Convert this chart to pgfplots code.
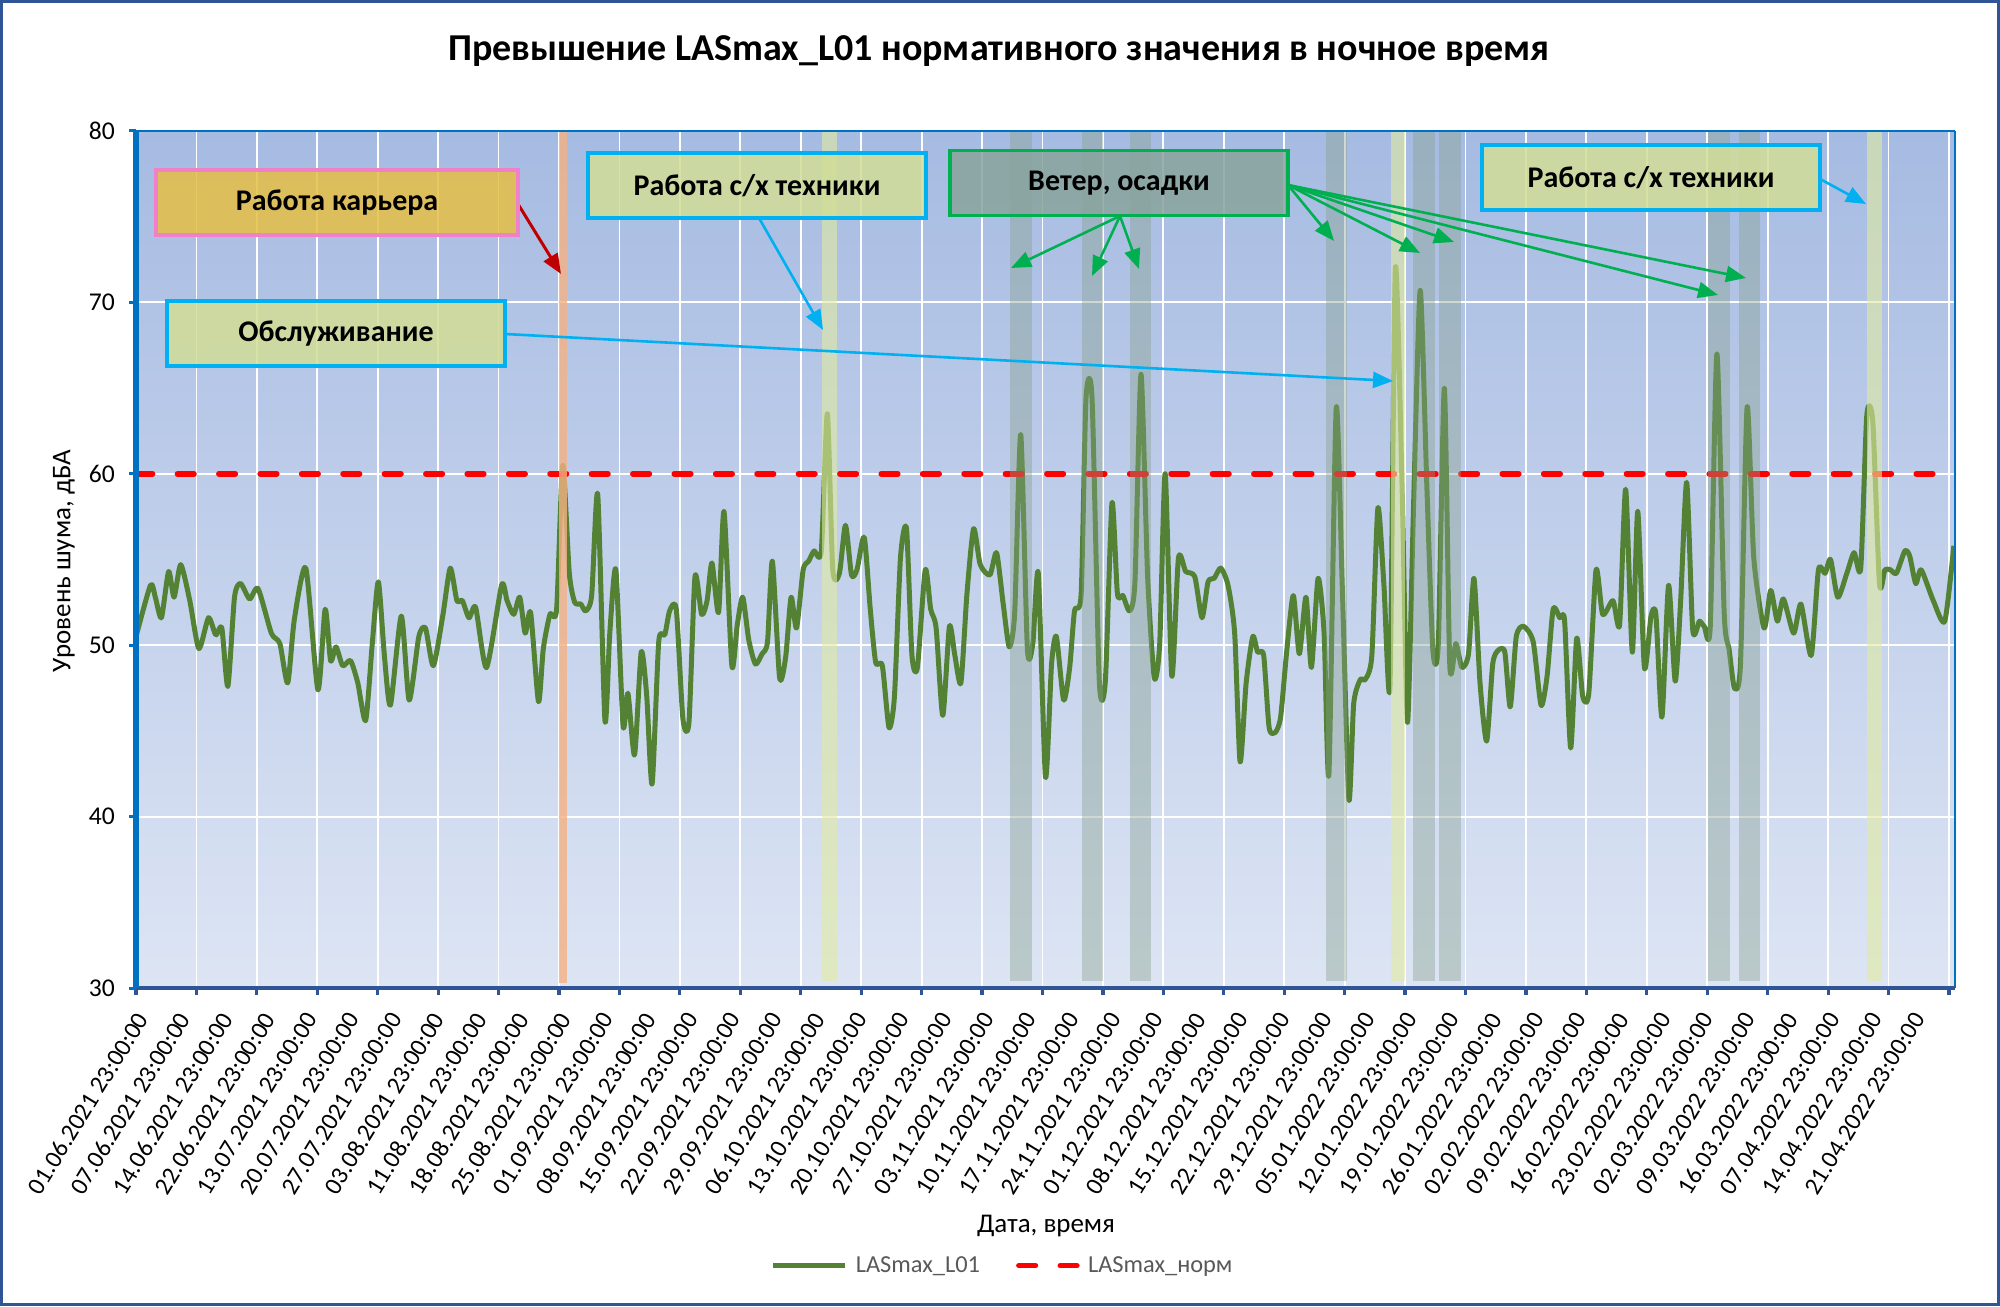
\documentclass[border=0pt]{standalone}
\usepackage{fontspec}
\setmainfont{Carlito}
\usepackage{pgfplots}
\pgfplotsset{compat=1.18}
\usetikzlibrary{arrows.meta}
\definecolor{linegreen}{RGB}{84,130,53}
\definecolor{ycol}{RGB}{0,112,192}
\definecolor{xcol}{RGB}{47,85,151}
\definecolor{bgtop}{RGB}{166,187,226}
\definecolor{bgbot}{RGB}{221,229,244}
\definecolor{grayband}{RGB}{135,160,140}
\definecolor{yelband}{RGB}{225,235,160}
\definecolor{orband}{RGB}{244,177,131}
\definecolor{goldf}{RGB}{230,190,70}
\definecolor{pinkb}{RGB}{240,128,200}
\definecolor{olivef}{RGB}{210,221,150}
\definecolor{cyanb}{RGB}{0,176,240}
\definecolor{grayf}{RGB}{137,164,157}
\definecolor{greenb}{RGB}{0,176,80}
\definecolor{darkred}{RGB}{192,0,0}
\definecolor{legtext}{RGB}{89,89,89}
\definecolor{framec}{RGB}{47,85,151}
\pgfplotsset{
  mylegline/.style={legend image code/.code={\draw[##1] (0pt,0pt) -- (36pt,0pt);}},
  mylegdash/.style={legend image code/.code={\draw[##1, dash pattern=on 8.3pt off 12.4pt] (1.4pt,0pt) -- (30.6pt,0pt);}},
}
\begin{document}
\begin{tikzpicture}
\useasboundingbox (0pt,0pt) rectangle (1000pt,653pt);
\fill[white] (0pt,0pt) rectangle (1000pt,653pt);
\begin{axis}[
  at={(68pt,159pt)}, anchor=south west,
  scale only axis, width=909.5pt, height=428.5pt,
  xmin=0, xmax=301, ymin=30, ymax=80,
  clip mode=individual,
  axis line style={draw=none},
  axis background/.style={top color=bgtop, bottom color=bgbot},
  grid=major, major grid style={white, line width=0.9pt},
  tick pos=left, tick align=outside,
  xtick={0,10,...,300}, xticklabels={},
  x tick style={draw=xcol, line width=1.6pt},
  major tick length=3.5pt,
  extra x ticks={0,7,...,294},
  extra x tick style={grid=none, major tick length=0pt},
  extra x tick labels={01.06.2021 23:00:00, 07.06.2021 23:00:00, 14.06.2021 23:00:00, 22.06.2021 23:00:00, 13.07.2021 23:00:00, 20.07.2021 23:00:00, 27.07.2021 23:00:00, 03.08.2021 23:00:00, 11.08.2021 23:00:00, 18.08.2021 23:00:00, 25.08.2021 23:00:00, 01.09.2021 23:00:00, 08.09.2021 23:00:00, 15.09.2021 23:00:00, 22.09.2021 23:00:00, 29.09.2021 23:00:00, 06.10.2021 23:00:00, 13.10.2021 23:00:00, 20.10.2021 23:00:00, 27.10.2021 23:00:00, 03.11.2021 23:00:00, 10.11.2021 23:00:00, 17.11.2021 23:00:00, 24.11.2021 23:00:00, 01.12.2021 23:00:00, 08.12.2021 23:00:00, 15.12.2021 23:00:00, 22.12.2021 23:00:00, 29.12.2021 23:00:00, 05.01.2022 23:00:00, 12.01.2022 23:00:00, 19.01.2022 23:00:00, 26.01.2022 23:00:00, 02.02.2022 23:00:00, 09.02.2022 23:00:00, 16.02.2022 23:00:00, 23.02.2022 23:00:00, 02.03.2022 23:00:00, 09.03.2022 23:00:00, 16.03.2022 23:00:00, 07.04.2022 23:00:00, 14.04.2022 23:00:00, 21.04.2022 23:00:00},
  xticklabel style={xshift=3.7pt, yshift=-12.5pt, rotate=58.5, anchor=east, font=\fontsize{12.4}{14}\selectfont, inner sep=1pt},
  ytick={30,40,...,80},
  y tick style={draw=ycol, line width=1.5pt},
  yticklabel style={font=\fontsize{12.8}{15}\selectfont, xshift=-3.5pt},
  /pgf/number format/assume math mode=true,
  legend columns=2,
  legend style={draw=none, fill=none, at={(0.477,-0.324)}, anchor=center,
    font=\fontsize{12.2}{14}\selectfont, text=legtext,
    /tikz/every odd column/.append style={column sep=2pt},
    /tikz/every even column/.append style={column sep=16pt}},
]
\addplot[color=linegreen, line width=2.5pt, smooth, tension=0.4, line join=round, mylegline]
coordinates {
(0,50.5) (2.4,53.5) (3.2,52.8) (4.2,51.6) (5.4,54.3) (6.3,52.8) (7.4,54.7) (8.9,52.6) (10.4,49.8) (12.0,51.6) (13.2,50.6) (14.2,51.0) (15.2,47.6) (16.3,52.8) (17.3,53.6) (18.8,52.7) (20.2,53.3) (22.4,50.7) (23.8,50.1) (25.1,47.8) (26.2,51.5) (28.1,54.5) (30.1,47.4) (31.3,52.1) (32.2,49.1) (33.1,49.9) (34.2,48.8) (35.5,49.1) (36.7,47.8) (38.0,45.6) (39.1,50.1) (40.1,53.7) (41.1,49.4) (42.1,46.5) (43.9,51.7) (45.2,46.8) (46.8,50.5) (47.9,51.0) (49.2,48.8) (50.8,51.8) (52.0,54.5) (53.1,52.6) (54.0,52.6) (55.1,51.6) (56.2,52.2) (58.0,48.7)
(60.5,53.5) (61.4,52.6) (62.5,51.8) (63.5,52.8) (64.4,50.7) (65.3,51.9) (66.6,46.7) (67.4,49.8) (68.5,51.8) (69.6,52.1) (70.6,60.5) (71.7,54.2) (72.6,52.5) (73.6,52.4) (74.4,52.0) (75.4,52.9) (76.4,58.8) (77.6,45.6) (78.4,50.7) (79.4,54.4) (80.6,45.3) (81.4,47.2) (82.5,43.6) (83.6,49.6) (84.5,47.1) (85.4,41.9) (86.5,50.2) (87.5,50.6) (88.3,52.0) (89.4,52.1) (90.5,45.7) (91.5,45.5) (92.5,54.0) (93.6,51.8) (94.5,52.6) (95.3,54.8) (96.4,51.9) (97.3,57.8) (98.6,48.8) (99.5,51.2) (100.4,52.8) (101.4,50.3) (102.5,48.9) (103.6,49.5) (104.5,50.2) (105.3,54.9) (106.5,48.1) (107.5,49.3) (108.4,52.8) (109.3,51.0) (110.4,54.4) (111.3,54.9) (112.2,55.5) (113.4,55.5) (114.4,63.5) (115.3,54.4) (116.4,54.2) (117.4,57.0) (118.4,54.1) (119.3,54.4)
(120.5,56.3) (121.5,52.1) (122.4,49.0) (123.5,48.8) (124.6,45.2) (125.5,47.0) (126.5,55.1) (127.5,56.8) (128.4,49.4) (129.3,48.7) (130.6,54.4) (131.5,52.1) (132.4,51.0) (133.5,45.9) (134.6,51.1) (135.5,49.4) (136.5,47.8) (137.5,53.0) (138.6,56.8) (139.7,54.7) (141.3,54.1) (142.4,55.4) (143.5,52.4) (144.5,49.9) (145.4,51.9) (146.4,62.3) (147.5,49.8) (148.4,50.1) (149.3,54.2) (150.5,42.3) (151.5,48.9) (152.3,50.5) (153.5,46.8) (154.5,48.7) (155.3,52.0) (156.4,53.0) (157.2,64.4) (158.2,64.4) (159.4,47.9) (160.4,47.9) (161.5,58.3) (162.4,53.0) (163.3,52.9) (164.4,52.0) (165.3,53.7) (166.3,65.8) (167.4,54.0) (168.5,48.1) (169.4,50.1) (170.3,60.0) (171.4,48.2) (172.5,55.1) (173.7,54.3) (175.2,54.0) (176.4,51.6) (177.4,53.7) (178.4,53.9) (179.5,54.5)
(180.7,53.5) (181.8,50.7) (182.7,43.2) (183.7,47.8) (184.8,50.5) (185.6,49.6) (186.6,49.4) (187.5,45.2) (188.5,44.9) (189.4,45.8) (190.4,49.6) (191.5,52.9) (192.5,49.5) (193.6,52.8) (194.5,48.7) (195.6,53.9) (196.6,50.7) (197.4,42.5) (198.6,63.8) (199.6,53.5) (200.7,41.0) (201.5,46.6) (202.6,48.0) (203.4,48.0) (204.5,49.4) (205.5,58.0) (206.5,53.5) (207.5,47.6) (208.4,72.0) (209.5,59.3) (210.4,45.5) (211.4,58.1) (212.5,70.7) (213.6,59.3) (214.6,49.7) (215.5,50.1) (216.5,65.0) (217.4,48.8) (218.4,50.1) (219.4,48.7) (220.5,49.5) (221.4,53.9) (222.4,47.8) (223.5,44.4) (224.5,48.9) (225.4,49.7) (226.5,49.6) (227.4,46.4) (228.4,50.5) (229.6,51.1) (231.2,50.2) (232.5,46.5) (233.5,48.2) (234.5,52.1) (235.6,51.6) (236.4,51.4) (237.4,44.0) (238.4,50.4) (239.4,47.0) (240.4,47.2)
(241.6,54.4) (242.7,51.8) (244.4,52.6) (245.5,51.2) (246.5,59.1) (247.6,49.6) (248.5,57.8) (249.6,48.7) (250.7,51.7) (251.5,51.8) (252.5,45.8) (253.6,53.5) (254.7,47.9) (255.6,52.6) (256.6,59.5) (257.6,50.9) (258.7,51.4) (259.5,51.1) (260.5,51.1) (261.6,67.0) (262.8,51.9) (263.6,49.8) (264.5,47.5) (265.5,48.9) (266.6,63.9) (267.7,55.1) (269.4,51.0) (270.5,53.2) (271.6,51.4) (272.6,52.7) (274.3,50.7) (275.5,52.4) (277.2,49.4) (278.4,54.4) (279.5,54.2) (280.4,55.0) (281.6,52.8) (283.1,54.2) (284.3,55.4) (285.4,54.5) (286.4,63.4) (287.4,63.0) (288.5,53.6) (289.4,54.4) (290.3,54.4) (291.3,54.2) (292.7,55.5) (293.5,55.2) (294.5,53.6) (295.4,54.4) (297.4,52.6) (299.3,51.4) (300.8,55.8)
};
\addlegendentry{LASmax\_L01}
\addplot[color=red, line width=2.75pt, line cap=round, dash pattern=on 8.3pt off 12.4pt, mylegdash]
coordinates {(0,60) (301,60)};
\addlegendentry{LASmax\_норм}
\addplot[draw=none, fill=orband, fill opacity=0.8, forget plot] coordinates {(70.0,30.3) (71.3,30.3) (71.3,80) (70.0,80)};
\addplot[draw=none, fill=yelband, fill opacity=0.6, forget plot] coordinates {(113.5,30.4) (116.0,30.4) (116.0,80) (113.5,80)};
\addplot[draw=none, fill=yelband, fill opacity=0.6, forget plot] coordinates {(207.7,30.4) (210.0,30.4) (210.0,80) (207.7,80)};
\addplot[draw=none, fill=yelband, fill opacity=0.6, forget plot] coordinates {(286.4,30.4) (288.9,30.4) (288.9,80) (286.4,80)};
\addplot[draw=none, fill=grayband, fill opacity=0.4, forget plot] coordinates {(144.6,30.4) (148.2,30.4) (148.2,80) (144.6,80)};
\addplot[draw=none, fill=grayband, fill opacity=0.4, forget plot] coordinates {(156.5,30.4) (160.0,30.4) (160.0,80) (156.5,80)};
\addplot[draw=none, fill=grayband, fill opacity=0.4, forget plot] coordinates {(164.5,30.4) (168.0,30.4) (168.0,80) (164.5,80)};
\addplot[draw=none, fill=grayband, fill opacity=0.4, forget plot] coordinates {(196.9,30.4) (200.4,30.4) (200.4,80) (196.9,80)};
\addplot[draw=none, fill=grayband, fill opacity=0.4, forget plot] coordinates {(211.3,30.4) (215.0,30.4) (215.0,80) (211.3,80)};
\addplot[draw=none, fill=grayband, fill opacity=0.4, forget plot] coordinates {(215.6,30.4) (219.3,30.4) (219.3,80) (215.6,80)};
\addplot[draw=none, fill=grayband, fill opacity=0.4, forget plot] coordinates {(260.2,30.4) (263.7,30.4) (263.7,80) (260.2,80)};
\addplot[draw=none, fill=grayband, fill opacity=0.4, forget plot] coordinates {(265.2,30.4) (268.8,30.4) (268.8,80) (265.2,80)};
\draw[ycol, line width=1.35pt] (rel axis cs:0,1) -- (rel axis cs:1,1);
\draw[ycol, line width=1.35pt] (rel axis cs:1,0) -- (rel axis cs:1,1);
\draw[xcol, line width=1.65pt] (rel axis cs:0,0) -- (rel axis cs:1,0);
\draw[ycol, line width=2.7pt] (rel axis cs:0,0) -- (rel axis cs:0,1);
\end{axis}
\draw[framec, line width=1.5pt] (0.75pt,0.75pt) rectangle (999.25pt,652.25pt);
\node[font=\bfseries\fontsize{19}{22}\selectfont] at (499.5pt,627.5pt) {Превышение LASmax\_L01 нормативного значения в ночное время};
\node[font=\fontsize{13.5}{16}\selectfont, rotate=90] at (32pt,372.5pt) {Уровень шума, дБА};
\node[font=\fontsize{13.5}{16}\selectfont] at (523pt,40pt) {Дата, время};
\draw[darkred, line width=1.5pt, -{Triangle[length=10pt,width=8pt]}] (259pt,551pt) -- (280.5pt,516pt);
\draw[cyanb, line width=1.3pt, -{Triangle[length=10pt,width=8pt]}] (252.5pt,486pt) -- (696.5pt,462.5pt);
\draw[cyanb, line width=1.3pt, -{Triangle[length=10pt,width=8pt]}] (379.5pt,544pt) -- (411.5pt,488pt);
\draw[cyanb, line width=1.3pt, -{Triangle[length=10pt,width=8pt]}] (910pt,563.5pt) -- (933pt,551pt);
\foreach \p in {(505.5pt,519pt),(546pt,515pt),(569.5pt,518.5pt)}
  \draw[greenb, line width=1.3pt, -{Triangle[length=10pt,width=8pt]}] (560pt,545pt) -- \p;
\foreach \p in {(667pt,532.5pt),(710pt,526.5pt),(727pt,532pt),(859pt,505.5pt),(873pt,514pt)}
  \draw[greenb, line width=1.3pt, -{Triangle[length=10pt,width=8pt]}] (644pt,560.5pt) -- \p;
\tikzset{abox/.style={line width=1.8pt, fill opacity=0.85, text opacity=1, minimum width=169pt, minimum height=32.5pt, inner sep=0pt, font=\bfseries\fontsize{15}{18}\selectfont}}
\node[abox, draw=pinkb, fill=goldf, minimum width=181pt] at (168.5pt,551.75pt) {Работа карьера};
\node[abox, draw=cyanb, fill=olivef] at (168pt,486.25pt) {Обслуживание};
\node[abox, draw=cyanb, fill=olivef] at (378.5pt,560.25pt) {Работа с/х техники};
\node[abox, draw=greenb, fill=grayf] at (559.5pt,561.5pt) {Ветер, осадки};
\node[abox, draw=cyanb, fill=olivef] at (825.5pt,564.25pt) {Работа с/х техники};
\end{tikzpicture}
\end{document}
